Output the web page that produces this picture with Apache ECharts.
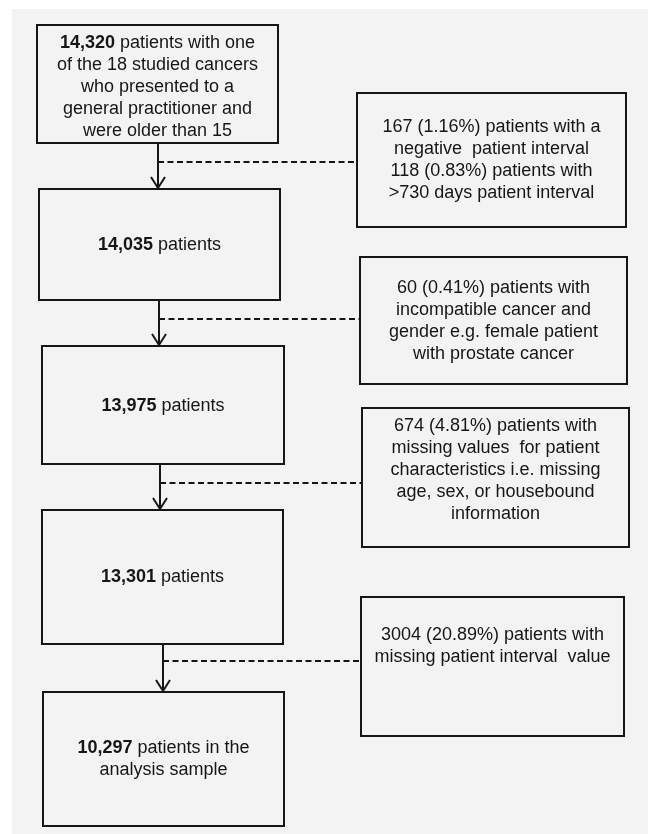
<!DOCTYPE html>
<html><head><meta charset="utf-8">
<script src="https://cdn.jsdelivr.net/npm/echarts@6/dist/echarts.min.js"></script>
<style>html,body{margin:0;padding:0;background:#ffffff;}#c{width:648px;height:834px;}</style>
</head><body><div id="c"></div>
<script>
// ---- content ----
const mainCounts = ['14,320', '14,035', '13,975', '13,301', '10,297'];
const mainRest = [
  ' patients with one\nof the 18 studied cancers\nwho presented to a\ngeneral practitioner and\nwere older than 15',
  ' patients',
  ' patients',
  ' patients',
  ' patients in the\nanalysis sample'
];
const exclusionTexts = [
  '167 (1.16%) patients with a\nnegative  patient interval\n118 (0.83%) patients with\n>730 days patient interval',
  '60 (0.41%) patients with\nincompatible cancer and\ngender e.g. female patient\nwith prostate cancer',
  '674 (4.81%) patients with\nmissing values  for patient\ncharacteristics i.e. missing\nage, sex, or housebound\ninformation',
  '3004 (20.89%) patients with\nmissing patient interval  value'
];

// ---- layout (diagram geometry) ----
const mainBoxes = [[37,25,278,143],[39,189,280,300],[42,346,284,464],[42,510,283,644],[43,692,284,826]];
const mainTextY = [87.5, 245, 406, 577, 759.5];
const sideBoxes = [[357,93,626,227],[360,257,627,384],[362,408,629,547],[361,597,624,736]];
const sideTextY = [160, 321.5, 470, 646];
const arrowX = [158, 159, 160, 163];
const dashY = [162, 319, 483, 661];

const FONT = "'Liberation Sans', Arial, sans-serif";
const INK = '#161616';
const BG = '#f3f3f3';

function boxEl(api, box, text, cy, rich) {
  const p0 = api.coord([box[0], box[1]]);
  const p1 = api.coord([box[2], box[3]]);
  const c = api.coord([(box[0] + box[2]) / 2, cy]);
  return {
    type: 'group',
    children: [
      { type: 'rect', shape: { x: p0[0], y: p0[1], width: p1[0] - p0[0], height: p1[1] - p0[1] },
        style: { fill: BG, stroke: INK, lineWidth: 2 } },
      { type: 'text', style: {
          text: text, x: c[0], y: c[1], align: 'center', verticalAlign: 'middle',
          fontSize: 18, fontFamily: FONT, lineHeight: 22, fill: INK,
          rich: rich
        } }
    ]
  };
}

const boldRich = { b: { fontWeight: 'bold', fontSize: 18, fontFamily: FONT, lineHeight: 22, fill: INK } };

const chart = echarts.init(document.getElementById('c'), null, { renderer: 'canvas' });
chart.setOption({
  animation: false,
  backgroundColor: '#ffffff',
  graphic: [{ type: 'rect', z: -10, shape: { x: 12, y: 9, width: 636, height: 825 }, style: { fill: BG } }],
  grid: { left: 0, right: 0, top: 0, bottom: 0 },
  xAxis: { type: 'value', min: 0, max: 648, show: false },
  yAxis: { type: 'value', min: 0, max: 834, inverse: true, show: false },
  series: [
    {
      type: 'custom', name: 'main',
      data: mainCounts.map((c, i) => [i, i]),
      renderItem: function (params, api) {
        const i = params.dataIndex;
        return boxEl(api, mainBoxes[i], '{b|' + mainCounts[i] + '}' + mainRest[i], mainTextY[i], boldRich);
      }
    },
    {
      type: 'custom', name: 'excluded',
      data: exclusionTexts.map((t, i) => [i, i]),
      renderItem: function (params, api) {
        const i = params.dataIndex;
        return boxEl(api, sideBoxes[i], exclusionTexts[i], sideTextY[i], undefined);
      }
    },
    {
      type: 'custom', name: 'arrows',
      data: arrowX.map((x, i) => [i, i]),
      renderItem: function (params, api) {
        const i = params.dataIndex;
        const x = arrowX[i];
        const top = api.coord([x, mainBoxes[i][3]]);
        const tip = api.coord([x, mainBoxes[i + 1][1]]);
        const dStart = api.coord([x, dashY[i]]);
        const dEnd = api.coord([sideBoxes[i][0], dashY[i]]);
        return {
          type: 'group',
          children: [
            { type: 'line', shape: { x1: top[0], y1: top[1], x2: tip[0], y2: tip[1] - 1 },
              style: { stroke: INK, lineWidth: 2 } },
            { type: 'polyline', shape: { points: [[tip[0] - 7, tip[1] - 12], [tip[0], tip[1] - 1], [tip[0] + 7, tip[1] - 12]] },
              style: { stroke: INK, lineWidth: 2, fill: null } },
            { type: 'line', shape: { x1: dStart[0], y1: dStart[1], x2: dEnd[0], y2: dEnd[1] },
              style: { stroke: INK, lineWidth: 1.9, lineDash: [6, 3.5] } }
          ]
        };
      }
    }
  ]
});
</script>
</body></html>
